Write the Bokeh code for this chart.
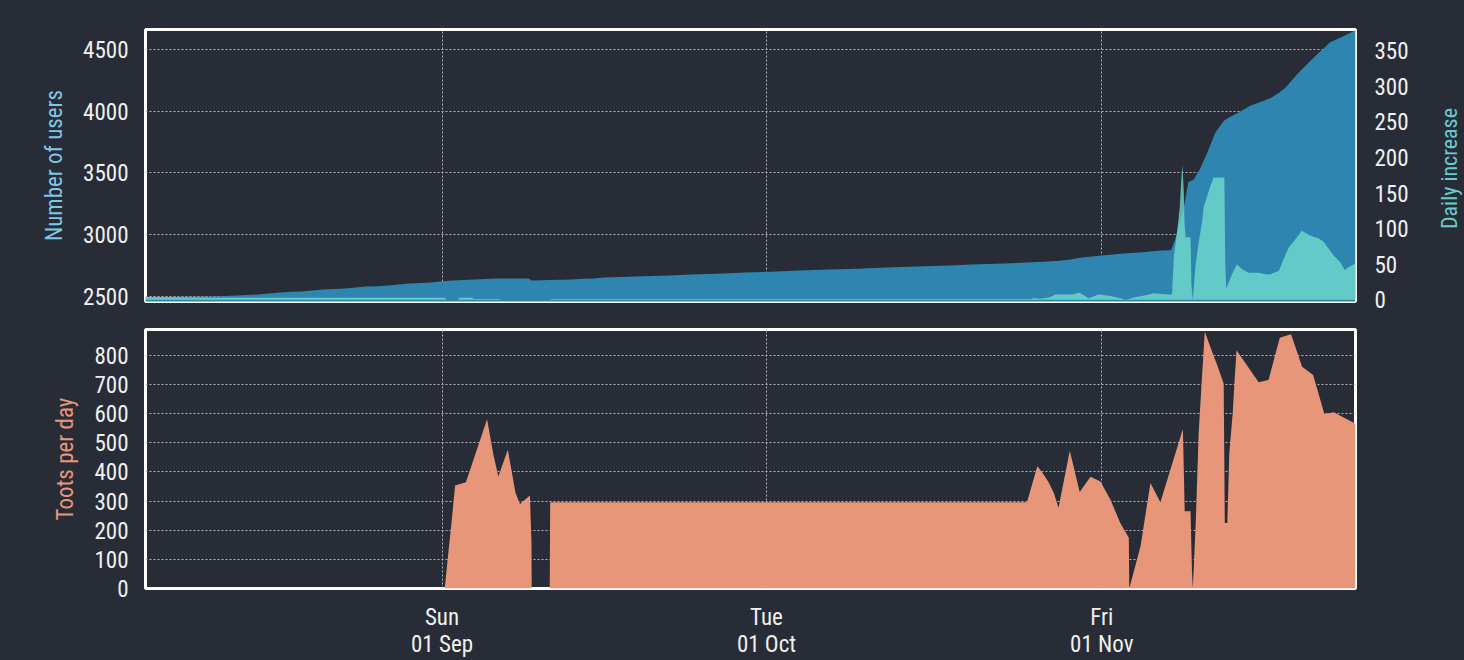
import math
import pandas as pd
from bokeh.plotting import figure
from bokeh.models import Range1d, LinearAxis, FixedTicker, SingleIntervalTicker
from bokeh.core.properties import value
from bokeh.layouts import column, row
from bokeh.embed import file_html
from bokeh.resources import INLINE

# ---------------- data ----------------
users_time = [
    "2019-08-04 14:00", "2019-08-11", "2019-08-12", "2019-08-13", "2019-08-14", "2019-08-15",
    "2019-08-16", "2019-08-17", "2019-08-18", "2019-08-19", "2019-08-20", "2019-08-21",
    "2019-08-22", "2019-08-23", "2019-08-24", "2019-08-25", "2019-08-26", "2019-08-27",
    "2019-08-28", "2019-08-29", "2019-08-30", "2019-08-31", "2019-09-01", "2019-09-02",
    "2019-09-03", "2019-09-04", "2019-09-05", "2019-09-06", "2019-09-09", "2019-09-09 07:00",
    "2019-09-11", "2019-09-13", "2019-09-14", "2019-09-15", "2019-09-16", "2019-09-19",
    "2019-09-22", "2019-09-24", "2019-09-27", "2019-09-29", "2019-10-02", "2019-10-04",
    "2019-10-07", "2019-10-10", "2019-10-12", "2019-10-15", "2019-10-18", "2019-10-20",
    "2019-10-23", "2019-10-25", "2019-10-27", "2019-10-28", "2019-10-29", "2019-10-30",
    "2019-11-01", "2019-11-02", "2019-11-03", "2019-11-04 12:00", "2019-11-05 12:00",
    "2019-11-06 12:00", "2019-11-07 10:00", "2019-11-07 19:00", "2019-11-08 00:00",
    "2019-11-08 12:00", "2019-11-09 00:00", "2019-11-09 12:00", "2019-11-10 02:00",
    "2019-11-10 17:00", "2019-11-11 12:00", "2019-11-12 07:00", "2019-11-12 22:00",
    "2019-11-13 19:00", "2019-11-14 17:00", "2019-11-16 00:00", "2019-11-16 17:00",
    "2019-11-17 10:00", "2019-11-18 00:00", "2019-11-19 02:00", "2019-11-20 07:00",
    "2019-11-21 12:00", "2019-11-22 02:00", "2019-11-23 02:00", "2019-11-23 17:00",
    "2019-11-24 11:00",
]
users = [
    2497, 2502, 2506, 2510, 2515, 2519,
    2527, 2535, 2540, 2543, 2551, 2559,
    2562, 2567, 2575, 2583, 2586, 2591,
    2599, 2607, 2611, 2615, 2625, 2631,
    2636, 2640, 2643, 2648, 2648, 2631,
    2636, 2640, 2646, 2648, 2656, 2664,
    2672, 2680, 2688, 2696, 2704, 2712,
    2720, 2728, 2736, 2744, 2752, 2760,
    2768, 2776, 2784, 2792, 2800, 2815,
    2833, 2841, 2849, 2857, 2865,
    2873, 2875, 2967, 3035,
    3180, 3424, 3446, 3532,
    3653, 3827, 3922, 3956,
    3994, 4043, 4083, 4110,
    4150, 4190, 4298, 4406,
    4505, 4553, 4593, 4620,
    4652,
]

incr_time = [
    "2019-08-04 14:00", "2019-08-12", "2019-09-01 07:00", "2019-09-01 10:00",
    "2019-09-02 12:00", "2019-09-02 14:00", "2019-09-03 19:00", "2019-09-03 22:00",
    "2019-09-06 07:00", "2019-09-06 10:00", "2019-09-11 00:00", "2019-09-11 02:00",
    "2019-10-25 12:00", "2019-10-25 17:00", "2019-10-26 07:00", "2019-10-27 05:00",
    "2019-10-27 17:00", "2019-10-29 07:00", "2019-10-29 22:00", "2019-10-30 05:00",
    "2019-10-30 19:00", "2019-10-31 17:00", "2019-11-01 07:00", "2019-11-01 22:00",
    "2019-11-02 17:00", "2019-11-03 05:00", "2019-11-04 02:00", "2019-11-05 07:00",
    "2019-11-05 19:00", "2019-11-06 14:00", "2019-11-07 10:00", "2019-11-07 12:00",
    "2019-11-07 16:00", "2019-11-07 23:00", "2019-11-08 05:00", "2019-11-08 08:00",
    "2019-11-08 11:00", "2019-11-08 14:00", "2019-11-08 15:30", "2019-11-08 18:00",
    "2019-11-09 05:00", "2019-11-09 07:00", "2019-11-09 10:00", "2019-11-09 12:00",
    "2019-11-09 16:00", "2019-11-09 23:00", "2019-11-10 07:00", "2019-11-10 10:00",
    "2019-11-10 18:00", "2019-11-11 01:00", "2019-11-11 08:00", "2019-11-12 08:00",
    "2019-11-12 10:00", "2019-11-12 12:00", "2019-11-13 01:00", "2019-11-13 12:00",
    "2019-11-13 23:00", "2019-11-14 14:00", "2019-11-15 12:00", "2019-11-16 03:00",
    "2019-11-16 14:00", "2019-11-17 09:00", "2019-11-17 20:00", "2019-11-18 07:00",
    "2019-11-18 18:00", "2019-11-19 12:00", "2019-11-20 07:00", "2019-11-21 01:00",
    "2019-11-21 12:00", "2019-11-21 23:00", "2019-11-22 11:00", "2019-11-23 01:00",
    "2019-11-23 11:00", "2019-11-23 20:00", "2019-11-24 11:00",
]
incr = [
    4, 3, 3, 0,
    0, 3, 3, 1,
    1, 0, 0, 1,
    1, 2.5, 1.5, 3.7,
    7.4, 7.4, 9.8, 7.4,
    2.3, 7.4, 6.5, 5,
    2.3, 0, 3.7, 7,
    9.3, 8, 7, 10,
    62, 95, 130, 165,
    190, 151, 109, 88,
    88, 20, 0, 16,
    48, 81, 111, 130,
    146, 160, 172, 172,
    53, 16, 36, 50,
    43, 38, 38, 36,
    36, 41, 58, 74,
    82, 97, 90, 86,
    82, 72, 62, 53,
    42, 46, 51,
]

toots_time = [
    "2019-08-04 14:00", "2019-09-01 06:00", "2019-09-01 14:00", "2019-09-01 21:00",
    "2019-09-02 05:00", "2019-09-03 05:00", "2019-09-05 04:00", "2019-09-05 18:00",
    "2019-09-06 05:00", "2019-09-07 02:00", "2019-09-07 19:00", "2019-09-08 05:00",
    "2019-09-09 03:00", "2019-09-09 06:30", "2019-09-09 07:00", "2019-09-10 23:00",
    "2019-09-10 23:30", "2019-09-11 00:00", "2019-10-25 02:00", "2019-10-26 01:00",
    "2019-10-26 12:00", "2019-10-27 02:00", "2019-10-27 13:30", "2019-10-28 00:00",
    "2019-10-29 01:00", "2019-10-29 23:00", "2019-10-30 23:00", "2019-10-31 21:00",
    "2019-11-01 19:00", "2019-11-02 17:00", "2019-11-03 12:00", "2019-11-03 13:00",
    "2019-11-04 14:00", "2019-11-05 12:00", "2019-11-06 10:00", "2019-11-08 12:00",
    "2019-11-08 16:00", "2019-11-09 05:00", "2019-11-09 06:00", "2019-11-09 08:00",
    "2019-11-09 10:00", "2019-11-09 12:00", "2019-11-09 17:00", "2019-11-09 23:00",
    "2019-11-10 05:00", "2019-11-10 12:30", "2019-11-11 05:00", "2019-11-11 16:00",
    "2019-11-12 06:30", "2019-11-12 09:00", "2019-11-12 14:30", "2019-11-12 19:00",
    "2019-11-13 02:30", "2019-11-13 07:00", "2019-11-13 11:00", "2019-11-15 12:00",
    "2019-11-16 10:00", "2019-11-17 11:00", "2019-11-18 12:00", "2019-11-19 12:30",
    "2019-11-20 13:00", "2019-11-21 14:00", "2019-11-22 10:30", "2019-11-24 11:00",
]
toots = [
    0, 0, 123, 225,
    353, 364, 580, 459,
    384, 476, 328, 290,
    319, 157, 0, 0,
    155, 296, 296, 419,
    398, 364, 328, 277,
    472, 331, 383, 367,
    305, 225, 174, 0,
    145, 362, 296, 547,
    265, 265, 197, 66,
    0, 66, 248, 533,
    692, 880, 811, 766,
    703, 225, 225, 464,
    601, 720, 817, 707,
    715, 860, 872, 760,
    732, 598, 604, 565,
]

tick_dates = ["2019-09-01", "2019-10-01", "2019-11-01"]
tick_labels = ["Sun\n01 Sep", "Tue\n01 Oct", "Fri\n01 Nov"]
right_title = ["Daily increase"]

# ---------------- style ----------------
BG = "#282c37"
BLUE = "#2e86b0"
TEAL = "#76e0d0"
SALMON = "#e8967a"
USERS_LBL = "#7ec6e8"
INC_LBL = "#66cccc"
TICK_COL = "#f0f0f0"
GRID_COL = "#b4b4b4"
FONT = "Roboto Condensed"


def to_ms(strings):
    return [pd.Timestamp(s).value / 1e6 for s in strings]


tick_ms = to_ms(tick_dates)
x_range = Range1d(*to_ms(["2019-08-04 14:00", "2019-11-24 11:00"]))


def style_axis(ax, label_color):
    ax.axis_line_color = None
    ax.major_tick_line_color = None
    ax.minor_tick_line_color = None
    ax.major_tick_out = 0
    ax.major_tick_in = 0
    ax.major_label_text_font = FONT
    ax.major_label_text_font_size = "23px"
    ax.major_label_text_color = TICK_COL
    ax.axis_label_text_font = FONT
    ax.axis_label_text_font_size = "23px"
    ax.axis_label_text_font_style = "normal"
    ax.axis_label_text_color = label_color


def style_fig(p):
    p.background_fill_color = BG
    p.border_fill_color = BG
    p.outline_line_color = "white"
    p.outline_line_width = 3
    for g in (p.xgrid[0], p.ygrid[0]):
        g.grid_line_color = GRID_COL
        g.grid_line_dash = "2 2"
        g.grid_line_width = 1


# ---------------- top figure ----------------
p1 = figure(width=1420, height=315, x_range=x_range, y_range=Range1d(2462, 4658),
            output_backend="svg", toolbar_location=None,
            min_border_left=145, min_border_right=65, min_border_top=29, min_border_bottom=14)
style_fig(p1)
p1.extra_y_ranges = {"inc": Range1d(-2.4, 380)}

p1.varea(x=to_ms(users_time), y1=2300, y2=users, fill_color=BLUE, fill_alpha=1.0)
p1.varea(x=to_ms(incr_time), y1=0, y2=incr, fill_color=TEAL, fill_alpha=0.75, y_range_name="inc")

p1.xaxis.visible = False
p1.xgrid.ticker = FixedTicker(ticks=tick_ms)
p1.yaxis.ticker = SingleIntervalTicker(interval=500)
p1.ygrid.ticker = SingleIntervalTicker(interval=500)
p1.yaxis.axis_label = "Number of users"
p1.yaxis.major_label_standoff = 13
p1.yaxis.axis_label_standoff = 12
style_axis(p1.yaxis[0], USERS_LBL)

rax = LinearAxis(y_range_name="inc", ticker=SingleIntervalTicker(interval=50))
style_axis(rax, INC_LBL)
rax.major_label_standoff = 15
p1.add_layout(rax, "right")

# narrow strip holding the right-hand axis title (reads bottom to top)
p_lbl = figure(width=44, height=315, x_range=Range1d(0, 44), y_range=Range1d(0, 315),
               output_backend="svg", toolbar_location=None,
               x_axis_location=None, y_axis_location=None,
               min_border_left=0, min_border_right=0, min_border_top=0, min_border_bottom=0)
p_lbl.background_fill_color = BG
p_lbl.border_fill_color = BG
p_lbl.outline_line_color = None
p_lbl.xgrid.visible = False
p_lbl.ygrid.visible = False
p_lbl.text(x=[29], y=[154], text=right_title, angle=math.pi / 2,
           text_align="center", text_baseline="middle",
           text_font=value(FONT), text_font_size="22px", text_color=INC_LBL)

# ---------------- bottom figure ----------------
p2 = figure(width=1464, height=345, x_range=x_range, y_range=Range1d(0, 888),
            output_backend="svg", toolbar_location=None,
            min_border_left=145, min_border_right=109, min_border_top=14, min_border_bottom=71)
style_fig(p2)
p2.varea(x=to_ms(toots_time), y1=0, y2=toots, fill_color=SALMON, fill_alpha=1.0)

p2.xaxis.ticker = FixedTicker(ticks=tick_ms)
p2.xgrid.ticker = FixedTicker(ticks=tick_ms)
p2.xaxis.major_label_overrides = {t: l for t, l in zip(tick_ms, tick_labels)}
style_axis(p2.xaxis[0], TICK_COL)
p2.xaxis.major_label_standoff = 15
p2.xaxis.major_label_text_line_height = 1.0

p2.yaxis.ticker = SingleIntervalTicker(interval=100)
p2.ygrid.ticker = SingleIntervalTicker(interval=100)
p2.yaxis.axis_label = "Toots per day"
p2.yaxis.major_label_standoff = 13
p2.yaxis.axis_label_standoff = 12
style_axis(p2.yaxis[0], SALMON)

layout = column(row(p1, p_lbl, spacing=0), p2, spacing=0)
layout.styles = {"background-color": BG}

html = file_html(layout, INLINE, title="Instance stats")
html = html.replace("</head>",
                    "<style>html,body{margin:0;padding:0;background:%s;}</style></head>" % BG, 1)
open("out.html", "w").write(html)
